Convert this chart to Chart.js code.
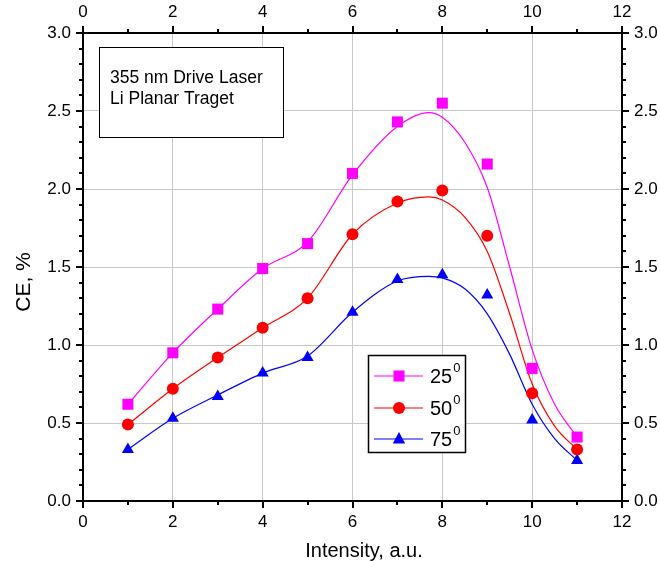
<!DOCTYPE html>
<html>
<head>
<meta charset="utf-8">
<script src="https://cdn.jsdelivr.net/npm/chart.js@4.4.0/dist/chart.umd.min.js"></script>
<style>
  html, body { margin: 0; padding: 0; background: #fff; }
</style>
</head>
<body>
<canvas id="myChart" width="660" height="562"></canvas>
<script>
// measured points
const intensity = [1, 2, 3, 4, 5, 6, 7, 8, 9, 10, 11];
const ce25 = [0.62, 0.95, 1.23, 1.49, 1.65, 2.10, 2.43, 2.55, 2.16, 0.85, 0.41];
const ce50 = [0.49, 0.72, 0.92, 1.11, 1.30, 1.71, 1.92, 1.99, 1.70, 0.69, 0.33];
const ce75 = [0.33, 0.53, 0.67, 0.82, 0.92, 1.21, 1.42, 1.45, 1.32, 0.52, 0.26];

// smooth curves
const fitX  = [1, 2, 3, 4, 5, 6, 7, 7.7, 8, 8.5, 9, 9.5, 10, 10.5, 11];
const fit25 = [0.62, 0.95, 1.23, 1.49, 1.66, 2.09, 2.40, 2.49, 2.46, 2.30, 2.01, 1.50, 0.97, 0.62, 0.41];
const fit50 = [0.49, 0.72, 0.92, 1.11, 1.30, 1.71, 1.91, 1.95, 1.93, 1.82, 1.60, 1.20, 0.75, 0.48, 0.33];
const fit75 = [0.33, 0.53, 0.68, 0.82, 0.93, 1.21, 1.41, 1.44, 1.43, 1.36, 1.20, 0.94, 0.62, 0.40, 0.26];

const seriesNames = ['25', '50', '75'];
const seriesColors = ['#ff00ff', '#ff0000', '#0000ff'];
const noteLines = ['355 nm Drive Laser', 'Li Planar Traget'];

const pts = (xs, ys) => xs.map((x, i) => ({ x: x, y: ys[i] }));

function marker(ctx, style, x, y, color) {
    ctx.fillStyle = color;
    ctx.beginPath();
    if (style === 'rect') {
        ctx.rect(x - 5.5, y - 5.5, 11, 11);
    } else if (style === 'circle') {
        ctx.arc(x, y, 6, 0, Math.PI * 2);
    } else {
        ctx.moveTo(x, y - 7);
        ctx.lineTo(x + 6.2, y + 4.5);
        ctx.lineTo(x - 6.2, y + 4.5);
        ctx.closePath();
    }
    ctx.fill();
}

const styles = ['rect', 'circle', 'triangle'];

// ticks, boxes, legend and titles drawn on top of the chart
const decor = {
    id: 'decor',
    afterDraw(chart) {
        const ctx = chart.ctx;
        const xs = chart.scales.x, ys = chart.scales.y;
        const { left, right, top, bottom } = chart.chartArea;
        ctx.save();
        ctx.strokeStyle = '#000';
        ctx.lineWidth = 2;
        ctx.beginPath();
        for (let v = 0; v <= 12; v++) {
            const px = Math.round(xs.getPixelForValue(v));
            const len = v % 2 === 0 ? 7 : 4;
            ctx.moveTo(px, bottom); ctx.lineTo(px, bottom + len);
            ctx.moveTo(px, top); ctx.lineTo(px, top - len);
        }
        for (let i = 0; i <= 30; i++) {
            const py = Math.round(ys.getPixelForValue(i / 10));
            const len = i % 5 === 0 ? 7 : 4;
            ctx.moveTo(left, py); ctx.lineTo(left - len, py);
            ctx.moveTo(right, py); ctx.lineTo(right + len, py);
        }
        ctx.stroke();

        // note box
        ctx.lineWidth = 1;
        ctx.fillStyle = '#fff';
        ctx.fillRect(99.5, 47.5, 184, 90);
        ctx.strokeRect(99.5, 47.5, 184, 90);
        ctx.fillStyle = '#000';
        ctx.font = '17.5px Arial';
        ctx.textBaseline = 'middle';
        ctx.textAlign = 'left';
        ctx.fillText(noteLines[0], 110, 78);
        ctx.fillText(noteLines[1], 110, 99);

        // legend box
        ctx.fillStyle = '#fff';
        ctx.fillRect(368.5, 355.5, 97, 97);
        ctx.lineWidth = 1.5;
        ctx.strokeRect(368.5, 355.5, 97, 97);
        const rows = [376, 408, 439];
        seriesNames.forEach((name, i) => {
            const y = rows[i];
            ctx.strokeStyle = seriesColors[i];
            ctx.lineWidth = 1.2;
            ctx.beginPath();
            ctx.moveTo(374, y); ctx.lineTo(423, y);
            ctx.stroke();
            marker(ctx, styles[i], 399, y, seriesColors[i]);
            ctx.fillStyle = '#000';
            ctx.font = '20px Arial';
            ctx.fillText(name, 430, y + 1);
            const w = ctx.measureText(name).width;
            ctx.font = '13px Arial';
            ctx.fillText('0', 430 + w + 1, y - 8);
        });

        // axis titles
        ctx.fillStyle = '#000';
        ctx.font = '20px Arial';
        ctx.textAlign = 'center';
        ctx.fillText('Intensity, a.u.', 364, 551);
        ctx.translate(24, 282);
        ctx.rotate(-Math.PI / 2);
        ctx.font = '21px Arial';
        ctx.fillText('CE, %', 0, 0);
        ctx.restore();
    }
};

const tickFont = { family: 'Arial', size: 17 };
const gridCol = '#c8c8c8';

const scatterSets = [ce25, ce50, ce75].map((ys, i) => ({
    label: seriesNames[i],
    data: pts(intensity, ys),
    showLine: false,
    pointStyle: styles[i],
    pointRadius: styles[i] === 'rect' ? 7.8 : (styles[i] === 'circle' ? 6 : 7),
    backgroundColor: seriesColors[i],
    borderColor: seriesColors[i],
    pointBorderWidth: 0,
    order: 0
}));
const fitSets = [fit25, fit50, fit75].map((ys, i) => ({
    label: seriesNames[i] + ' fit',
    data: pts(fitX, ys),
    showLine: true,
    borderColor: seriesColors[i],
    borderWidth: 1.2,
    pointRadius: 0,
    cubicInterpolationMode: 'monotone',
    order: 1
}));

new Chart(document.getElementById('myChart'), {
    type: 'scatter',
    data: { datasets: scatterSets.concat(fitSets) },
    options: {
        responsive: false,
        animation: false,
        devicePixelRatio: 1,
        layout: { padding: 0 },
        plugins: { legend: { display: false }, tooltip: { enabled: false } },
        scales: {
            x: {
                type: 'linear', position: 'bottom', min: 0, max: 12,
                ticks: { stepSize: 2, color: '#000', font: tickFont, padding: 3 },
                grid: { color: gridCol, tickLength: 8, tickColor: 'transparent' },
                border: { color: '#000', width: 2 },
                afterFit: s => { s.height = 61; }
            },
            x2: {
                type: 'linear', position: 'top', min: 0, max: 12,
                ticks: { stepSize: 2, color: '#000', font: tickFont, padding: 2 },
                grid: { drawOnChartArea: false, tickLength: 8, tickColor: 'transparent' },
                border: { color: '#000', width: 2 },
                afterFit: s => { s.height = 33; }
            },
            y: {
                type: 'linear', position: 'left', min: 0, max: 3,
                ticks: { stepSize: 0.5, color: '#000', font: tickFont, padding: 4, callback: v => v.toFixed(1) },
                grid: { color: gridCol, tickLength: 8, tickColor: 'transparent' },
                border: { color: '#000', width: 2 },
                afterFit: s => { s.width = 83; }
            },
            y2: {
                type: 'linear', position: 'right', min: 0, max: 3,
                ticks: { stepSize: 0.5, color: '#000', font: tickFont, padding: 4, callback: v => v.toFixed(1) },
                grid: { drawOnChartArea: false, tickLength: 8, tickColor: 'transparent' },
                border: { color: '#000', width: 2 },
                afterFit: s => { s.width = 38; }
            }
        }
    },
    plugins: [decor]
});
</script>
</body>
</html>
